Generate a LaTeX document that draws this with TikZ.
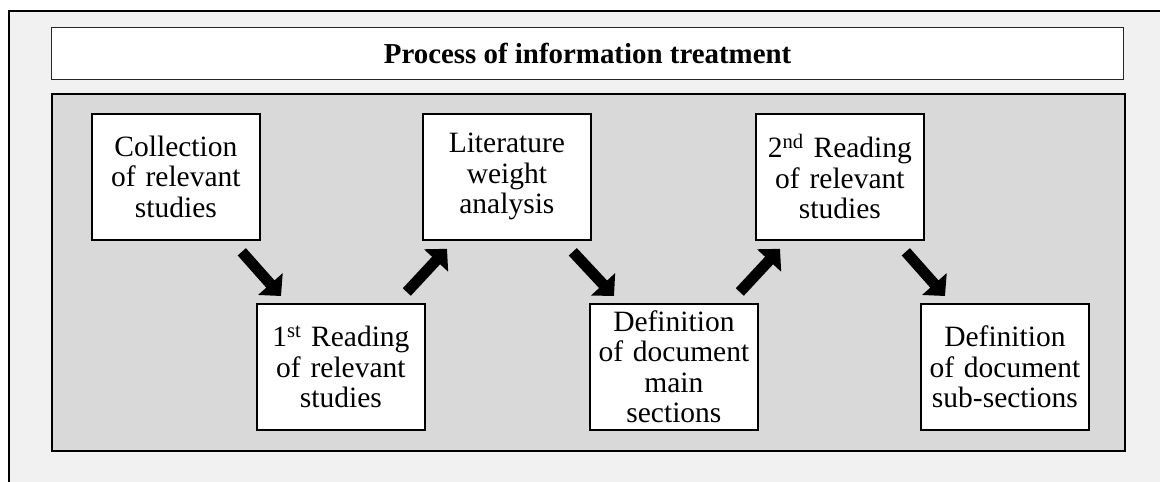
\documentclass[tikz,border=0pt]{standalone}
\usepackage{fontspec}
\setmainfont{Liberation Serif}
\usetikzlibrary{arrows.meta,calc}
\definecolor{outerbg}{HTML}{F1F1F1}
\definecolor{innerbg}{HTML}{D9D9D9}
\tikzset{
  stepbox/.style={draw=black, line width=1.8pt, fill=white, minimum width=168pt, minimum height=126pt,
    text width=166pt, align=center, inner sep=0pt, anchor=north west,
    font=\fontsize{29.5}{30.5}\selectfont},
  flowarrow/.style={line width=11pt, line cap=butt, -{Triangle[width=32pt,length=16pt]}}
}
\begin{document}
\begin{tikzpicture}[x=1pt,y=-1pt]
\useasboundingbox (0,0) rectangle (1160,482);
% outer frame
\draw[fill=outerbg, line width=1.8pt] (9,11) rectangle (1175,500);
% title box
\node[draw=black!85, line width=1.2pt, fill=white, minimum width=1072pt, minimum height=52pt, inner sep=0pt, anchor=north west,
  font=\fontsize{28.9}{30}\selectfont\bfseries] (title) at (51,27) {Process of information treatment};
% gray panel
\node[draw=black, line width=2.2pt, fill=innerbg, minimum width=1073pt, minimum height=357pt, inner sep=0pt, anchor=north west] (panel) at (51,93) {};
% steps
\node[stepbox] (b1) at (91,113) {Collection\\of relevant\\studies};
\node[stepbox] (b2) at (256,303) {1\textsuperscript{st} Reading\\of relevant\\studies};
\node[stepbox] (b3) at (422,113) {Literature\\weight\\analysis};
\node[stepbox] (b4) at (589,303) {Definition\\of document\\main\\sections};
\node[stepbox] (b5) at (755,113) {2\textsuperscript{nd} Reading\\of relevant\\studies};
\node[stepbox] (b6) at (920,303) {Definition\\of document\\sub-sections};
% arrows
\draw[flowarrow] ($(b1.south east)+(-19,11)$) -- ($(b2.north west)+(25,-7)$);
\draw[flowarrow] ($(b2.north east)+(-19,-11)$) -- ($(b3.south west)+(25,8)$);
\draw[flowarrow] ($(b3.south east)+(-19,11)$) -- ($(b4.north west)+(25,-7)$);
\draw[flowarrow] ($(b4.north east)+(-19,-11)$) -- ($(b5.south west)+(25,8)$);
\draw[flowarrow] ($(b5.south east)+(-19,11)$) -- ($(b6.north west)+(25,-7)$);
\end{tikzpicture}
\end{document}
